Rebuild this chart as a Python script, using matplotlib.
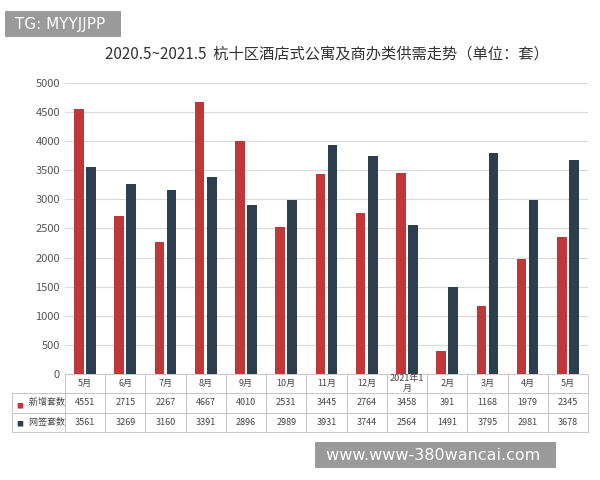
import matplotlib
matplotlib.use("Agg")
import matplotlib.pyplot as plt
import numpy as np

plt.rcParams['font.family'] = ['Noto Sans CJK SC', 'DejaVu Sans']

months = ["5月", "6月", "7月", "8月", "9月", "10月", "11月", "12月",
          "2021年1\n月", "2月", "3月", "4月", "5月"]
new_supply = [4551, 2715, 2267, 4667, 4010, 2531, 3445, 2764, 3458, 391, 1168, 1979, 2345]
signed = [3561, 3269, 3160, 3391, 2896, 2989, 3931, 3744, 2564, 1491, 3795, 2981, 3678]
series_names = ["新增套数", "网签套数"]
RED = "#C0373A"
NAVY = "#2D3E4E"

fig = plt.figure(figsize=(6, 4.8), dpi=100)
ax = fig.add_axes([0.108, 0.221, 0.872, 0.606])

x = np.arange(len(months))
ax.bar(x - 0.15, new_supply, width=0.24, color=RED, zorder=3)
ax.bar(x + 0.15, signed, width=0.24, color=NAVY, zorder=3)
ax.set_xlim(-0.5, len(months) - 0.5)
ax.set_ylim(0, 5000)
ax.set_yticks(range(0, 5001, 500))
ax.tick_params(axis='y', labelsize=8, colors="#555555", length=0)
ax.set_xticks([])
ax.grid(axis='y', color="#d9d9d9", lw=0.8, zorder=0)
for s in ax.spines.values():
    s.set_visible(False)

ax.set_title("2020.5~2021.5  杭十区酒店式公寓及商办类供需走势（单位：套）",
             fontsize=11, color="#333333", pad=18)

cells = [[""] + months,
         ["      " + series_names[0]] + [str(v) for v in new_supply],
         ["      " + series_names[1]] + [str(v) for v in signed]]
lw = 53 / 576
cw = (1 - lw) / len(months)
tab = ax.table(cellText=cells, colWidths=[lw] + [cw] * len(months),
               cellLoc='center', bbox=[-0.101, -0.199, 1.101, 0.199])
tab.auto_set_font_size(False)
for (r, c), cell in tab.get_celld().items():
    cell.set_edgecolor("#bfbfbf")
    cell.set_linewidth(0.6)
    cell.get_text().set_fontsize(6.5)
    cell.get_text().set_color("#444444")
    if c == 0:
        cell.get_text().set_ha('left')
    if r == 0 and c == 0:
        cell.visible_edges = "BR"
fig.text(0.027, 1 - 406 / 480, "■", color=RED, fontsize=5, va='center')
fig.text(0.027, 1 - 424 / 480, "■", color=NAVY, fontsize=5, va='center')

fig.text(0.017, 1 - 24 / 480, " TG: MYYJJPP  ", color="white", fontsize=11, va='center',
         family="DejaVu Sans", bbox=dict(facecolor="#9a9a9a", edgecolor="none", pad=4))
fig.text(0.535, 1 - 455 / 480, " www.www-380wancai.com  ", color="white", fontsize=11.5,
         va='center', family="DejaVu Sans",
         bbox=dict(facecolor="#9a9a9a", edgecolor="none", pad=4))

fig.savefig("out.png", dpi=100)
